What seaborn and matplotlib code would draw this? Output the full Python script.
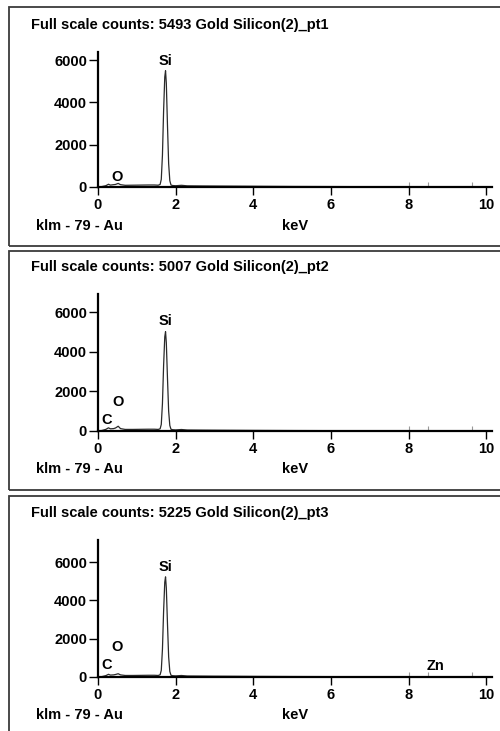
#!/usr/bin/env python3
import numpy as np
import pandas as pd
import matplotlib
matplotlib.use("Agg")
import matplotlib.pyplot as plt
from matplotlib.patches import Rectangle
import seaborn as sns

# -----------------------
# data
# -----------------------
energy = [0.00, 0.10, 0.20, 0.27, 0.32, 0.40, 0.45, 0.52, 0.58, 0.70, 0.90, 1.10,
          1.30, 1.45, 1.55, 1.60, 1.63, 1.66, 1.69, 1.72, 1.74, 1.76, 1.79, 1.82,
          1.85, 1.88, 1.92, 2.00, 2.15, 2.30, 2.60, 3.00, 3.50, 4.00, 5.00, 6.00,
          7.00, 8.00, 8.60, 9.00, 9.70, 10.00, 10.15]

counts_pt1 = [0, 20, 60, 130, 90, 110, 120, 170, 110, 80, 85, 90,
              95, 95, 85, 120, 360, 1500, 3600, 5200, 5493, 4900, 2900, 1100,
              300, 95, 70, 60, 80, 55, 50, 45, 40, 35, 25, 20,
              15, 12, 15, 10, 14, 8, 5]
counts_pt2 = [0, 25, 80, 160, 110, 120, 150, 240, 120, 80, 80, 85,
              90, 90, 80, 110, 330, 1380, 3300, 4750, 5007, 4450, 2650, 1000,
              280, 90, 65, 55, 75, 50, 45, 40, 35, 30, 22, 18,
              14, 11, 13, 9, 12, 7, 4]
counts_pt3 = [0, 20, 70, 140, 100, 110, 130, 170, 110, 80, 80, 85,
              90, 90, 80, 115, 345, 1440, 3430, 4950, 5225, 4650, 2760, 1050,
              290, 92, 68, 58, 78, 52, 48, 42, 38, 32, 24, 19,
              15, 12, 16, 10, 13, 7, 4]

titles = ["Full scale counts: 5493 Gold Silicon(2)_pt1",
          "Full scale counts: 5007 Gold Silicon(2)_pt2",
          "Full scale counts: 5225 Gold Silicon(2)_pt3"]

# element labels per panel: (name, keV, label height in counts)
labels_pt1 = [("O", 0.49, 470), ("Si", 1.75, 5950)]
labels_pt2 = [("C", 0.23, 560), ("O", 0.52, 1460), ("Si", 1.74, 5550)]
labels_pt3 = [("C", 0.23, 630), ("O", 0.50, 1570), ("Si", 1.74, 5740), ("Zn", 8.69, 580)]

marker_kev = [8.0, 8.49, 9.63]
ymax = [6378, 6908, 7148]
xticks = [0, 2, 4, 6, 8, 10]
yticks = [0, 2000, 4000, 6000]

# -----------------------
# style
# -----------------------
sns.set_theme(style="white")
plt.rcParams["font.family"] = ["Liberation Sans", "DejaVu Sans"]
plt.rcParams["font.weight"] = "bold"
plt.rcParams["text.color"] = "black"
plt.rcParams["xtick.color"] = "black"
plt.rcParams["ytick.color"] = "black"
plt.rcParams["xtick.labelcolor"] = "black"
plt.rcParams["ytick.labelcolor"] = "black"

W, H = 500, 731
fig = plt.figure(figsize=(W / 100, H / 100), dpi=100)
fig.patch.set_facecolor("white")


def fx(px):
    return px / W


def fy(py):
    return 1 - py / H


# panel layout in pixels: box top, box bottom, axes top, axes bottom(y=0), title y, footer y
layout = [
    (7, 246, 52, 187, 25, 226),
    (251, 490, 294, 431, 267, 469),
    (496, 760, 540, 677, 513, 715),
]
all_counts = [counts_pt1, counts_pt2, counts_pt3]
all_labels = [labels_pt1, labels_pt2, labels_pt3]
FS = 10.5

for i, (btop, bbot, atop, abot, ty, fyy) in enumerate(layout):
    # panel frame
    fig.patches.append(Rectangle((fx(9), fy(bbot)), fx(520), (bbot - btop) / H,
                                 transform=fig.transFigure, fill=False,
                                 edgecolor="#3a3a3a", linewidth=1.3))
    fig.text(fx(31), fy(ty), titles[i], fontsize=FS, fontweight="bold",
             va="center", ha="left", color="black")
    fig.text(fx(36), fy(fyy), "klm - 79 - Au", fontsize=FS, fontweight="bold",
             va="center", ha="left", color="black")
    fig.text(fx(295), fy(fyy), "keV", fontsize=FS, fontweight="bold",
             va="center", ha="center", color="black")

    ax = fig.add_axes([fx(98), fy(abot), fx(394), (abot - atop) / H])
    ax.set_facecolor("none")
    df = pd.DataFrame({"keV": energy, "counts": all_counts[i]})
    sns.lineplot(data=df, x="keV", y="counts", ax=ax, color="#2a2a2a",
                 linewidth=0.9)

    for name, e, yv in all_labels[i]:
        ax.text(e, yv, name, fontsize=FS, fontweight="bold",
                ha="center", va="center", color="black")

    for m in marker_kev:
        ax.vlines(m, 0, ymax[i] * 0.035, color="#999999", linewidth=0.8)

    ax.set_xlim(0, 10.15)
    ax.set_ylim(0, ymax[i])
    ax.set_xticks(xticks)
    ax.set_yticks(yticks)
    ax.set_xticklabels([str(t) for t in xticks], fontsize=FS, fontweight="bold")
    ax.set_yticklabels([str(t) for t in yticks], fontsize=FS, fontweight="bold")
    ax.set_xlabel("")
    ax.set_ylabel("")
    for s in ["top", "right"]:
        ax.spines[s].set_visible(False)
    ax.spines["left"].set_linewidth(1.6)
    ax.spines["bottom"].set_linewidth(1.6)
    ax.spines["left"].set_color("black")
    ax.spines["bottom"].set_color("black")
    ax.tick_params(axis="y", direction="out", length=6.5, width=1.0,
                   pad=1.5, colors="black", left=True)
    ax.tick_params(axis="x", direction="out", length=6.0, width=1.0,
                   pad=2.0, colors="black", bottom=True)
    ax.grid(False)

fig.savefig("out.png", dpi=100, facecolor="white")
